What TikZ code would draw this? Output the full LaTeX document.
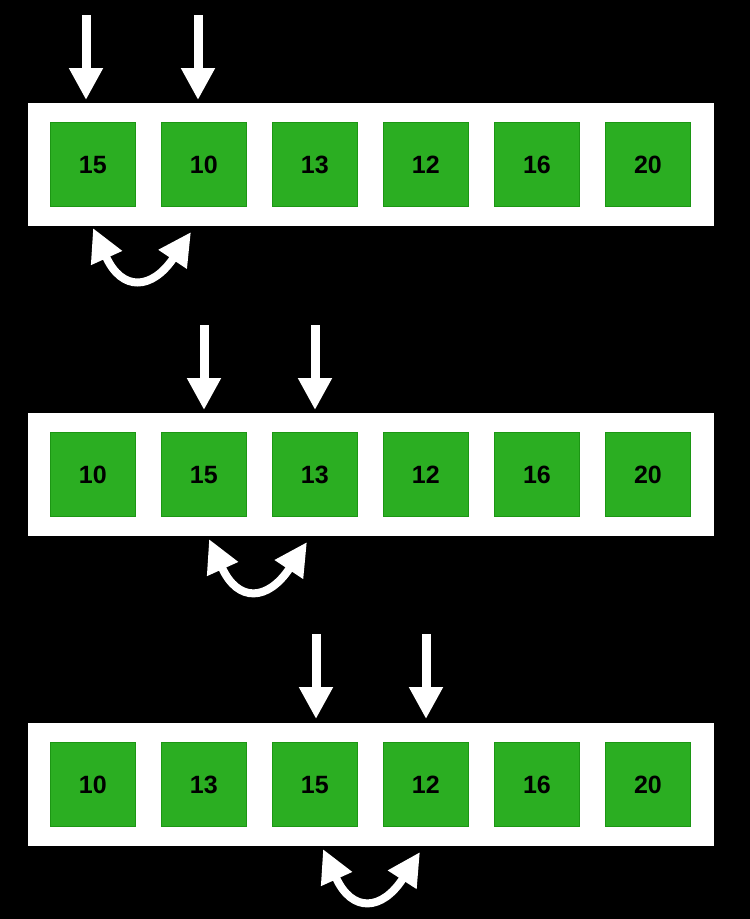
\documentclass[tikz,border=0pt]{standalone}
\usepackage{fontspec}
\setmainfont{Liberation Sans}
\usetikzlibrary{arrows.meta}
\definecolor{boxgreen}{RGB}{43,174,34}
\definecolor{boxedge}{RGB}{28,150,20}
\tikzset{
  bar/.style={fill=white,draw=none,minimum width=686pt,minimum height=123pt,inner sep=0pt,anchor=north west},
  cell/.style={fill=boxgreen,draw=boxedge,line width=0.8pt,minimum width=85pt,minimum height=84pt,inner sep=0pt,text height=18pt,text depth=-1pt,anchor=north west,font=\fontsize{25}{25}\selectfont\bfseries,text=black},
  pointer/.style={white,line width=9pt,-{Triangle[length=32pt,width=32pt]}},
  swaparrow/.style={white,line width=8pt,{Triangle[length=33pt,width=32pt]}-{Triangle[length=33pt,width=32pt]}}
}
\begin{document}
\begin{tikzpicture}[x=1pt,y=-1pt]
\fill[black] (0,0) rectangle (750,919);
\useasboundingbox (0,0) rectangle (750,919);
% row 1
\begin{scope}
\node[bar] (bar1) at (28,103) {};
\foreach \i/\v in {0/15,1/10,2/13,3/12,4/16,5/20}{
  \node[cell] (a\i) at (50+111*\i,122) {\v};
}
\coordinate (p1s) at (86,15); \coordinate (p1e) at (86,100);
\coordinate (p2s) at (198,15); \coordinate (p2e) at (198,100);
\draw[pointer] (p1s) -- (p1e);
\draw[pointer] (p2s) -- (p2e);
\coordinate (s1l) at (93,228); \coordinate (s1r) at (191,232);
\draw[swaparrow] (s1l) .. controls (122,292) and (152,290) .. (s1r);
\end{scope}
% row 2
\begin{scope}[shift={(0,310)}]
\node[bar] (bar2) at (28,103) {};
\foreach \i/\v in {0/10,1/15,2/13,3/12,4/16,5/20}{
  \node[cell] (b\i) at (50+111*\i,122) {\v};
}
\coordinate (q1s) at (204,15); \coordinate (q1e) at (204,100);
\coordinate (q2s) at (315,15); \coordinate (q2e) at (315,100);
\draw[pointer] (q1s) -- (q1e);
\draw[pointer] (q2s) -- (q2e);
\coordinate (s2l) at (209,229); \coordinate (s2r) at (307,232);
\draw[swaparrow] (s2l) .. controls (238,293) and (268,291) .. (s2r);
\end{scope}
% row 3
\begin{scope}[shift={(0,620)}]
\node[bar] (bar3) at (28,103) {};
\foreach \i/\v in {0/10,1/13,2/15,3/12,4/16,5/20}{
  \node[cell] (c\i) at (50+111*\i,122) {\v};
}
\coordinate (r1s) at (316,14); \coordinate (r1e) at (316,99);
\coordinate (r2s) at (426,14); \coordinate (r2e) at (426,99);
\draw[pointer] (r1s) -- (r1e);
\draw[pointer] (r2s) -- (r2e);
\coordinate (s3l) at (323,229); \coordinate (s3r) at (420,232);
\draw[swaparrow] (s3l) .. controls (352,293) and (382,291) .. (s3r);
\end{scope}
\end{tikzpicture}
\end{document}
